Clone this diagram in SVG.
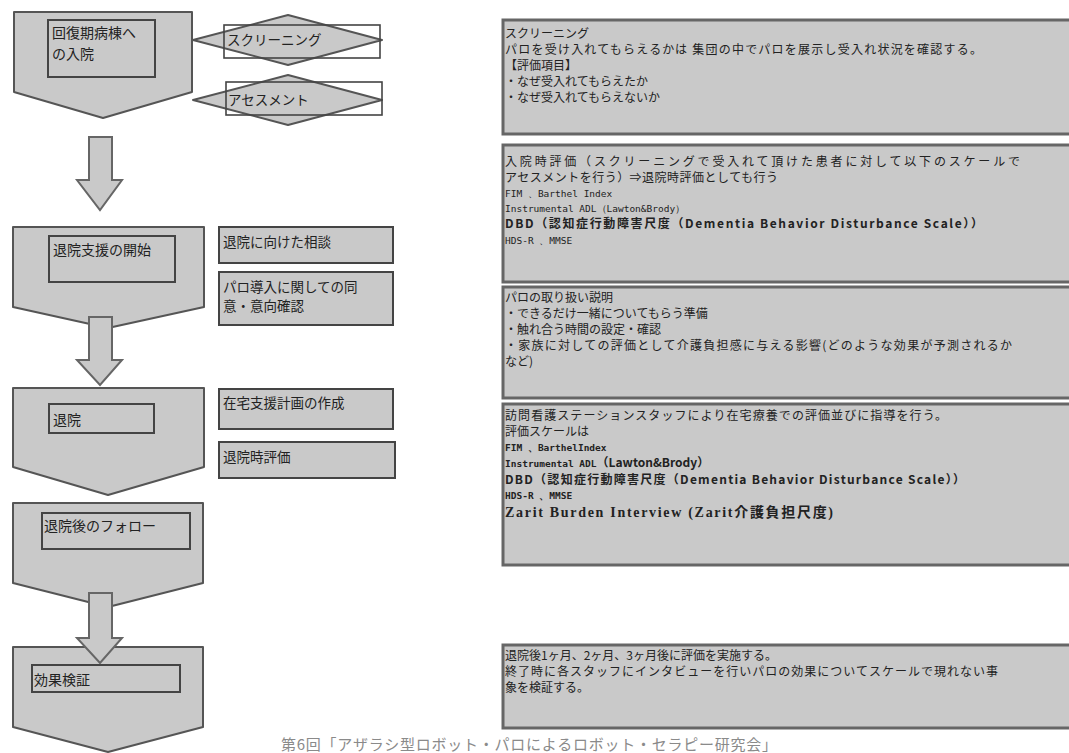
<svg xmlns="http://www.w3.org/2000/svg" width="1069" height="753" viewBox="0 0 1069 753">
<style>
.sh{fill:#c9c9c9;stroke:#555;stroke-width:2;stroke-linejoin:round}
.in{fill:#c9c9c9;stroke:#444;stroke-width:2}
.ol{fill:none;stroke:#444;stroke-width:1.6}
.bx{fill:#c9c9c9;stroke:#666;stroke-width:3}
.ar{fill:#c9c9c9;stroke:#666;stroke-width:2;stroke-linejoin:miter}
text{font-family:"Noto Sans CJK JP","Noto Sans",sans-serif;fill:#222}
.t{font-size:14px}
.l{font-size:13.5px}
.s{font-size:12px}
.m{font-size:9.5px;font-family:"DejaVu Sans Mono","Liberation Mono",monospace}
.b{font-weight:bold}
.z{font-family:"Liberation Serif","Noto Sans CJK JP",serif;font-weight:bold;font-size:14px}
.cap{font-size:15px;fill:#8a8a8a}
</style>
<rect width="1069" height="753" fill="#ffffff"/>

<g id="connectors">
<path class="ar" d="M89,137 H112 V180 H122 L100,210 L77,180 H89 Z"/>
</g>

<g id="n1">
<path class="sh" d="M14,12 H192 V92 L103,118 L14,92 Z"/>
<rect class="in" x="48" y="20" width="107" height="57"/>
<text class="t" x="52" y="38">回復期病棟へ</text>
<text class="t" x="52" y="59">の入院</text>
</g>
<g id="n-screening">
<polygon class="sh" points="193,40 288,15 382,40 288,65"/>
<rect class="ol" x="224" y="25" width="156" height="33"/>
<text class="l" x="227" y="45">スクリーニング</text>
</g>
<g id="n-assessment">
<polygon class="sh" points="193,100 288,75 382,100 288,125"/>
<rect class="ol" x="226" y="82" width="156" height="33"/>
<text class="l" x="228" y="105">アセスメント</text>
</g>

<g id="n2">
<path class="sh" d="M13,227 H204 V307 L108,328 L13,307 Z"/>
<rect class="in" x="49" y="236" width="126" height="46"/>
<text class="t" x="53" y="255">退院支援の開始</text>
</g>
<g id="n2a">
<rect class="in" x="219" y="227" width="174" height="36"/>
<text class="l" x="223" y="247">退院に向けた相談</text>
</g>
<g id="n2b">
<rect class="in" x="219" y="272" width="174" height="53"/>
<text class="l" x="223" y="292">パロ導入に関しての同</text>
<text class="l" x="223" y="311">意・意向確認</text>
</g>

<g id="n3">
<path class="sh" d="M13,388 H204 V467 L108,495 L13,467 Z"/>
<rect class="in" x="49" y="404" width="105" height="29"/>
<text class="t" x="53" y="425">退院</text>
</g>
<g id="n3a">
<rect class="in" x="219" y="389" width="174" height="40"/>
<text class="l" x="223" y="408">在宅支援計画の作成</text>
</g>
<g id="n3b">
<rect class="in" x="219" y="442" width="176" height="36"/>
<text class="l" x="223" y="462">退院時評価</text>
</g>

<g id="n4">
<path class="sh" d="M13,503 H203 V583 L108,607 L13,583 Z"/>
<rect class="in" x="42" y="513" width="148" height="36"/>
<text class="t" x="44" y="531">退院後のフォロー</text>
</g>

<g id="n5">
<path class="sh" d="M13,647 H203 V727 L108,752 L13,727 Z"/>
<rect class="in" x="32" y="665" width="148" height="27"/>
<text class="t" x="34" y="685">効果検証</text>
</g>

<g id="connectors2">
<path class="ar" d="M89,317 H112 V360 H122 L100,385 L77,360 H89 Z"/>
<path class="ar" d="M89,593 H112 V638 H122 L100,663 L77,638 H89 Z"/>
</g>

<g id="d1">
<rect class="bx" x="503" y="20" width="570" height="114"/>
<text class="s" x="505" y="38">スクリーニング</text>
<text class="s" x="505" y="54" textLength="477">パロを受け入れてもらえるかは 集団の中でパロを展示し受入れ状況を確認する。</text>
<text class="s" x="505" y="70">【評価項目】</text>
<text class="s" x="505" y="86">・なぜ受入れてもらえたか</text>
<text class="s" x="505" y="102">・なぜ受入れてもらえないか</text>
</g>

<g id="d2">
<rect class="bx" x="503" y="145" width="570" height="137"/>
<text class="s" x="505" y="166" textLength="515">入院時評価（スクリーニングで受入れて頂けた患者に対して以下のスケールで</text>
<text class="s" x="505" y="182" textLength="273">アセスメントを行う）⇒退院時評価としても行う</text>
<text class="m" x="505" y="197">FIM 、Barthel Index</text>
<text class="m" x="505" y="212">Instrumental ADL（Lawton&amp;Brody）</text>
<text class="s b" x="505" y="228" textLength="478">DBD（認知症行動障害尺度（Dementia Behavior Disturbance Scale））</text>
<text class="m" x="505" y="244">HDS-R 、MMSE</text>
</g>

<g id="d3">
<rect class="bx" x="503" y="287" width="570" height="111"/>
<text class="s" x="505" y="302">パロの取り扱い説明</text>
<text class="s" x="505" y="318">・できるだけ一緒についてもらう準備</text>
<text class="s" x="505" y="334">・触れ合う時間の設定・確認</text>
<text class="s" x="505" y="350" textLength="507">・家族に対しての評価として介護負担感に与える影響(どのような効果が予測されるか</text>
<text class="s" x="505" y="366">など)</text>
</g>

<g id="d4">
<rect class="bx" x="503" y="404" width="570" height="161"/>
<text class="s" x="505" y="420" textLength="442">訪問看護ステーションスタッフにより在宅療養での評価並びに指導を行う。</text>
<text class="s" x="505" y="436">評価スケールは</text>
<text class="m b" x="505" y="451">FIM 、BarthelIndex</text>
<text x="505" y="467"><tspan class="m b">Instrumental ADL</tspan><tspan class="s b">（Lawton&amp;Brody）</tspan></text>
<text class="s b" x="505" y="484" textLength="460">DBD（認知症行動障害尺度（Dementia Behavior Disturbance Scale））</text>
<text class="m b" x="505" y="499">HDS-R 、MMSE</text>
<text class="z" x="505" y="517" textLength="328">Zarit Burden Interview (Zarit介護負担尺度)</text>
</g>

<g id="d5">
<rect class="bx" x="503" y="645" width="570" height="83"/>
<text class="s" x="505" y="660">退院後1ヶ月、2ヶ月、3ヶ月後に評価を実施する。</text>
<text class="s" x="505" y="676" textLength="493">終了時に各スタッフにインタビューを行いパロの効果についてスケールで現れない事</text>
<text class="s" x="505" y="692">象を検証する。</text>
</g>

<text class="cap" x="281" y="750" textLength="496">第6回「アザラシ型ロボット・パロによるロボット・セラピー研究会」</text>
</svg>
